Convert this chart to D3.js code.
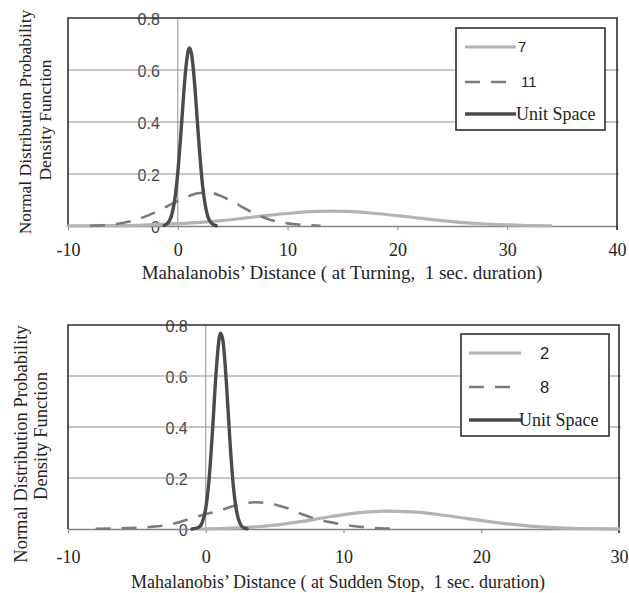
<!DOCTYPE html>
<html>
<head>
<meta charset="utf-8">
<script src="https://cdn.jsdelivr.net/npm/d3@7"></script>
<style>
  body { margin: 0; background: #fff; }
  svg { display: block; }
  .serif { font-family: "Liberation Serif", "Times New Roman", serif; }
  .sans { font-family: "Liberation Sans", Arial, sans-serif; }
</style>
</head>
<body>
<svg id="chart" width="629" height="593"></svg>
<script>
// Values (x = Mahalanobis distance, y = density)
var turningXTicks = [-10, 0, 10, 20, 30, 40];
var stopXTicks = [-10, 0, 10, 20, 30];
var yTicks = [0, 0.2, 0.4, 0.6, 0.8];
var turningNames = ["7", "11", "Unit Space"];
var stopNames = ["2", "8", "Unit Space"];

var turning7 = [[-10, 0.0002], [-5, 0.0015], [0, 0.009], [2, 0.014], [4, 0.021], [6, 0.030],
  [8, 0.040], [10, 0.048], [12, 0.055], [14, 0.057], [16, 0.055], [18, 0.048], [20, 0.040],
  [22, 0.030], [24, 0.021], [26, 0.013], [28, 0.0077], [30, 0.0042], [32, 0.002], [34, 0.001]];

var turning11 = [[-8, 0.001], [-6, 0.006], [-4, 0.022], [-3, 0.036], [-2, 0.054], [-1, 0.075],
  [0, 0.096], [1, 0.115], [2, 0.127], [3, 0.127], [4, 0.114], [5, 0.094], [6, 0.070],
  [7, 0.048], [8, 0.030], [10, 0.010], [12, 0.003], [13, 0.001]];

var turningUnit = [[-1.25, 0.002], [-1, 0.008], [-0.75, 0.021], [-0.5, 0.051], [-0.25, 0.110],
  [0, 0.205], [0.25, 0.338], [0.5, 0.487], [0.75, 0.615], [1, 0.681], [1.07, 0.685],
  [1.25, 0.662], [1.5, 0.564], [1.75, 0.421], [2, 0.276], [2.25, 0.158], [2.5, 0.080],
  [2.75, 0.035], [3, 0.014], [3.25, 0.005], [3.5, 0.001]];

var stop2 = [[-0.5, 0], [1, 0.002], [3, 0.006], [5, 0.015], [7, 0.030], [9, 0.048], [11, 0.063],
  [13, 0.070], [15, 0.067], [17, 0.056], [19, 0.041], [21, 0.026], [23, 0.014], [25, 0.006],
  [27, 0.002], [30, 0.0005]];

var stop8 = [[-8, 0.001], [-6, 0.003], [-4, 0.008], [-3, 0.014], [-2, 0.025], [-1, 0.043],
  [0, 0.058], [1, 0.072], [2, 0.090], [3, 0.102], [3.5, 0.105], [4, 0.104], [5, 0.096],
  [6, 0.080], [7, 0.058], [8, 0.040], [9, 0.027], [10, 0.017], [11, 0.010], [12, 0.005],
  [13, 0.002], [14, 0.001]];

var stopUnit = [[-1, 0.0002], [-0.5, 0.007], [-0.25, 0.026], [0, 0.081], [0.25, 0.200],
  [0.5, 0.394], [0.75, 0.613], [1, 0.756], [1.07, 0.768], [1.25, 0.738], [1.5, 0.572],
  [1.75, 0.350], [2, 0.170], [2.25, 0.066], [2.5, 0.020], [2.75, 0.005], [3, 0.001]];

// Line styles: light grey solid, mid grey dashed, dark solid
var styles = [
  { stroke: "#b3b3b3", width: 3.2, dash: null },
  { stroke: "#7b7b7b", width: 2.6, dash: "15,11" },
  { stroke: "#4b4b4b", width: 3.4, dash: null }
];

var panels = [
  {
    left: 68, right: 617, top: 18, bottom: 226,
    xDomain: [-10, 40], xTicks: turningXTicks, tickPad: 13,
    series: [turning7, turning11, turningUnit], names: turningNames,
    xTitle: "Mahalanobis\u2019 Distance ( at Turning,  1 sec. duration)",
    xTitleX: 342, xTitleY: 279, xTitleSize: 19,
    yTitle: { x1: 25, y1: 122, x2: 45, y2: 120, size: 17.5 },
    legend: { x: 456, y: 28, w: 149, h: 102, rows: [47, 82, 114],
      lineX: [465, 516], textX: [518, 521, 516], numSize: 15 }
  },
  {
    left: 68, right: 619, top: 325, bottom: 529,
    xDomain: [-10, 30], xTicks: stopXTicks, tickPad: 17,
    series: [stop2, stop8, stopUnit], names: stopNames,
    xTitle: "Mahalanobis\u2019 Distance ( at Sudden Stop,  1 sec. duration)",
    xTitleX: 338, xTitleY: 588, xTitleSize: 18,
    yTitle: { x1: 21, y1: 444, x2: 41, y2: 436, size: 18.5 },
    legend: { x: 461, y: 334, w: 148, h: 102, rows: [353, 387, 420],
      lineX: [469, 521], textX: [540, 540, 519], numSize: 16.5 }
  }
];

var svg = d3.select("#chart");

panels.forEach(drawPanel);

function drawPanel(p) {
  var g = svg.append("g");
  var x = d3.scaleLinear().domain(p.xDomain).range([p.left, p.right]);
  var y = d3.scaleLinear().domain([0, 0.8]).range([p.bottom, p.top]);

  // y tick labels sit beside the zero line and get crossed by the grid
  g.selectAll(".ylab")
    .data(yTicks)
    .enter().append("text")
    .attr("class", "ylab sans")
    .attr("x", x(0) - 18)
    .attr("y", function(d) { return y(d) + 1; })
    .attr("dy", "0.35em")
    .attr("text-anchor", "end")
    .attr("font-size", 16)
    .attr("fill", "#444")
    .text(function(d) { return String(d); });

  // horizontal grid
  g.selectAll(".grid")
    .data(yTicks.filter(function(d) { return d > 0 && d < 0.8; }))
    .enter().append("line")
    .attr("x1", p.left).attr("x2", p.right + 2)
    .attr("y1", function(d) { return y(d); })
    .attr("y2", function(d) { return y(d); })
    .attr("stroke", "#8f8f8f")
    .attr("stroke-width", 1);

  // vertical zero line
  g.append("line")
    .attr("x1", x(0)).attr("x2", x(0))
    .attr("y1", p.top).attr("y2", p.bottom)
    .attr("stroke", "#8f8f8f")
    .attr("stroke-width", 1);

  // x axis
  var axis = g.append("g")
    .attr("transform", "translate(0," + p.bottom + ")")
    .call(d3.axisBottom(x)
      .tickValues(p.xTicks)
      .tickSize(4)
      .tickSizeOuter(0)
      .tickPadding(p.tickPad)
      .tickFormat(String));
  axis.attr("font-family", null).attr("font-size", null);
  axis.select(".domain").attr("stroke", "#858585").attr("stroke-width", 1.6);
  axis.selectAll(".tick line").attr("stroke", "#858585");
  axis.selectAll(".tick text")
    .attr("class", "serif")
    .attr("font-size", 18)
    .attr("fill", "#222");

  // frame: top, left, right
  g.append("path")
    .attr("d", "M" + p.left + "," + p.bottom + "V" + p.top + "H" + p.right + "V" + (p.bottom + 4))
    .attr("fill", "none")
    .attr("stroke", "#2e2e2e")
    .attr("stroke-width", 1.6);

  // curves
  var line = d3.line()
    .x(function(d) { return x(d[0]); })
    .y(function(d) { return y(d[1]); })
    .curve(d3.curveMonotoneX);

  p.series.forEach(function(s, i) {
    g.append("path")
      .datum(s)
      .attr("d", line)
      .attr("fill", "none")
      .attr("stroke", styles[i].stroke)
      .attr("stroke-width", styles[i].width)
      .attr("stroke-dasharray", styles[i].dash)
      .attr("stroke-linejoin", "round")
      .attr("stroke-linecap", styles[i].dash ? "butt" : "round");
  });

  // legend
  var L = p.legend;
  g.append("rect")
    .attr("x", L.x).attr("y", L.y)
    .attr("width", L.w).attr("height", L.h)
    .attr("fill", "#fff")
    .attr("stroke", "#2e2e2e")
    .attr("stroke-width", 1.6);

  p.names.forEach(function(name, i) {
    g.append("line")
      .attr("x1", L.lineX[0]).attr("x2", L.lineX[1])
      .attr("y1", L.rows[i]).attr("y2", L.rows[i])
      .attr("stroke", styles[i].stroke)
      .attr("stroke-width", styles[i].width)
      .attr("stroke-dasharray", styles[i].dash);

    var isNum = i < 2;
    g.append("text")
      .attr("class", isNum ? "sans" : "serif")
      .attr("x", L.textX[i])
      .attr("y", L.rows[i])
      .attr("dy", "0.35em")
      .attr("font-size", isNum ? L.numSize : 18)
      .attr("fill", "#222")
      .text(name);
  });

  // axis titles
  g.append("text")
    .attr("class", "serif")
    .attr("x", p.xTitleX)
    .attr("y", p.xTitleY)
    .attr("text-anchor", "middle")
    .attr("font-size", p.xTitleSize)
    .attr("fill", "#222")
    .style("white-space", "pre")
    .text(p.xTitle);

  var t = p.yTitle;
  [["Normal Distribution Probability", t.x1, t.y1], ["Density Function", t.x2, t.y2]]
    .forEach(function(row) {
      g.append("text")
        .attr("class", "serif")
        .attr("transform", "translate(" + row[1] + "," + row[2] + ") rotate(-90)")
        .attr("text-anchor", "middle")
        .attr("dy", "0.35em")
        .attr("font-size", t.size)
        .attr("fill", "#222")
        .text(row[0]);
    });
}
</script>
</body>
</html>
